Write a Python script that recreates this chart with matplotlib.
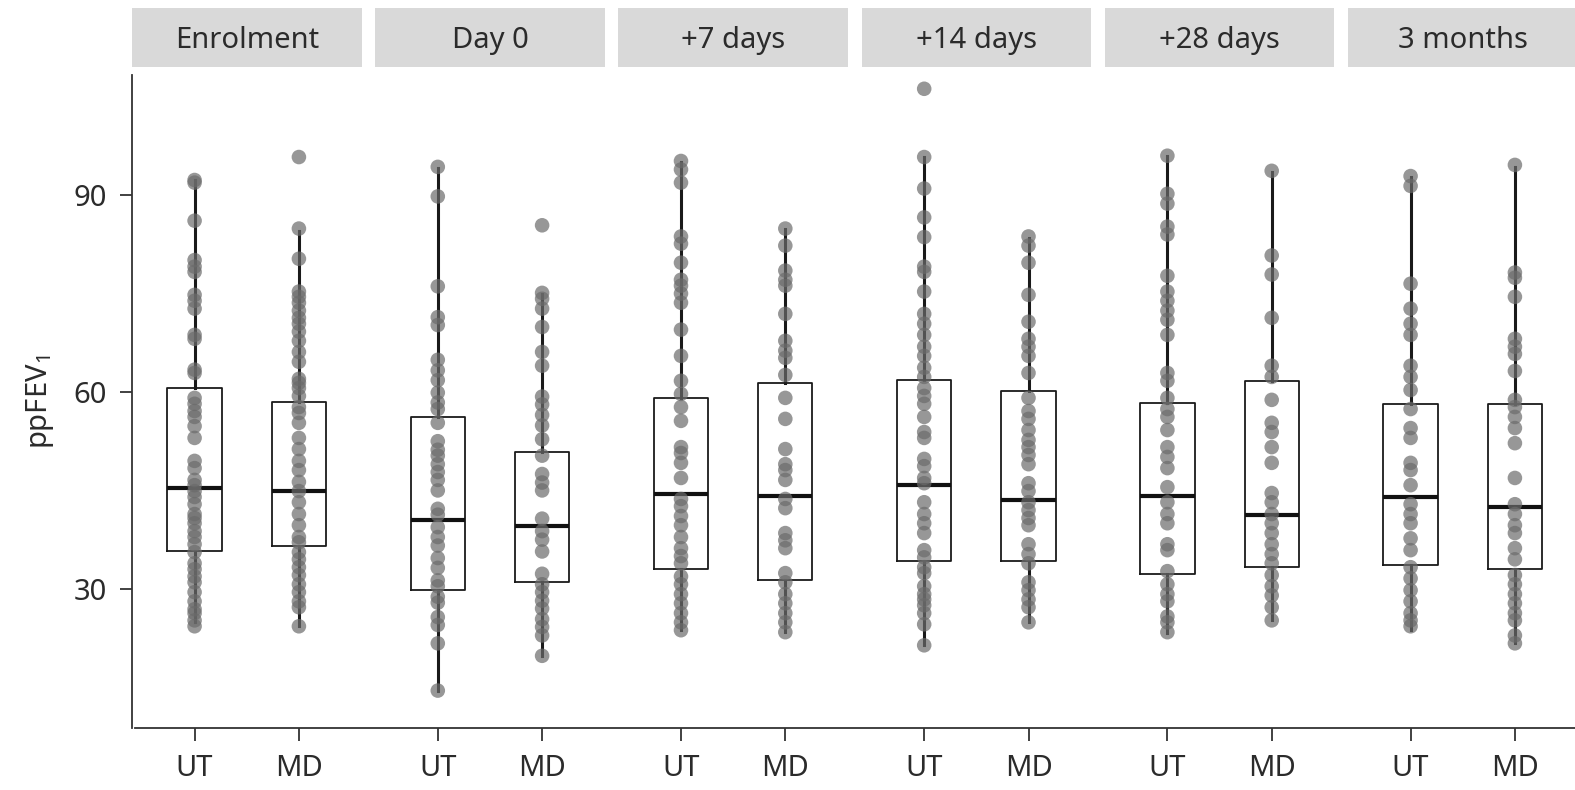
import matplotlib.pyplot as plt
from matplotlib.lines import Line2D

plt.rcParams['font.family'] = ['Noto Sans', 'DejaVu Sans']
plt.rcParams['mathtext.fontset'] = 'custom'
plt.rcParams['mathtext.rm'] = 'Noto Sans'
plt.rcParams['mathtext.it'] = 'Noto Sans:italic'

TIMEPOINTS = ['Enrolment', 'Day 0', '+7 days', '+14 days', '+28 days', '3 months']
ARMS = ['UT', 'MD']

# individual ppFEV1 values
enrol_ut = [92.3, 91.9, 86.1, 80.1, 79.1, 78.3, 74.8, 73.9, 72.7, 68.7, 68.1, 63.4, 62.9,
            59.1, 58.2, 57.1, 56.2, 54.8, 53.0, 49.5, 48.4, 46.6, 45.8, 44.9, 44.0, 42.9,
            41.4, 40.8, 40.0, 38.8, 37.9, 36.8, 35.6, 33.9, 33.0, 31.9, 31.0, 29.5, 28.1,
            26.9, 26.3, 25.2, 24.3]
enrol_md = [95.8, 84.9, 80.3, 75.3, 74.5, 73.6, 72.4, 71.3, 70.4, 69.2, 67.8, 66.1, 64.6,
            62.0, 61.4, 60.6, 59.4, 57.7, 56.8, 55.3, 53.0, 51.3, 49.5, 48.1, 46.3, 44.9,
            43.2, 41.4, 39.7, 37.9, 37.1, 35.6, 34.5, 33.3, 32.1, 30.7, 29.5, 28.1, 27.2, 24.3]
day0_ut = [94.3, 89.8, 76.1, 71.4, 70.2, 64.9, 63.3, 61.8, 59.9, 58.4, 57.4, 55.3, 52.5,
           51.2, 50.3, 49.0, 47.8, 46.6, 45.0, 42.2, 41.3, 39.4, 37.9, 36.6, 34.7, 33.2,
           31.3, 30.4, 28.8, 27.9, 25.7, 24.5, 21.7, 14.5]
day0_md = [85.4, 75.1, 74.2, 72.7, 69.9, 66.1, 64.0, 59.3, 58.1, 56.5, 54.9, 52.8, 50.3,
           47.5, 46.2, 45.0, 40.7, 38.8, 37.5, 35.7, 32.3, 30.7, 29.5, 28.2, 27.0, 25.4,
           24.2, 22.9, 19.8]
d7_ut = [95.2, 93.9, 91.9, 83.7, 82.6, 79.7, 77.1, 76.2, 75.0, 73.6, 69.5, 65.5, 61.7,
         59.7, 57.7, 55.6, 51.6, 50.7, 49.2, 46.9, 43.7, 42.6, 41.1, 39.7, 37.9, 36.2,
         35.0, 33.9, 31.9, 30.7, 29.2, 27.8, 26.3, 24.9, 23.7]
d7_md = [84.9, 82.3, 78.5, 77.1, 76.2, 71.9, 67.8, 66.3, 65.2, 62.6, 59.1, 55.9, 51.3,
         49.0, 48.1, 46.6, 43.7, 42.3, 38.5, 37.4, 36.2, 32.4, 31.0, 29.2, 27.8, 26.3,
         24.9, 23.4]
d14_ut = [106.2, 95.8, 91.0, 86.6, 83.6, 79.1, 78.3, 75.3, 71.9, 70.4, 68.7, 66.9, 65.5,
          63.7, 62.3, 60.6, 59.4, 58.2, 56.2, 53.9, 53.0, 49.8, 48.7, 46.9, 46.1, 43.2,
          41.4, 40.0, 38.5, 35.9, 34.8, 33.3, 32.4, 30.4, 29.2, 28.4, 27.5, 26.3, 24.6, 21.4]
d14_md = [83.7, 82.3, 79.7, 74.8, 70.7, 68.1, 66.9, 65.5, 62.9, 59.1, 57.1, 55.9, 54.2,
          52.7, 51.6, 50.4, 49.0, 46.1, 44.9, 43.2, 42.0, 40.8, 39.7, 36.8, 35.3, 33.9,
          31.0, 29.8, 28.4, 27.2, 24.9]
d28_ut = [96.0, 90.2, 88.7, 85.2, 84.0, 77.7, 75.3, 73.9, 72.4, 71.0, 68.7, 62.9, 61.7,
          59.1, 57.4, 56.2, 54.2, 51.6, 50.1, 48.4, 45.5, 43.2, 41.4, 40.0, 36.8, 35.9,
          32.7, 30.7, 29.2, 28.1, 25.8, 24.9, 23.4]
d28_md = [93.7, 80.8, 77.9, 71.3, 64.0, 62.3, 58.8, 55.3, 53.9, 51.6, 49.2, 44.6, 43.2,
          41.4, 40.0, 38.5, 36.8, 35.3, 33.9, 32.1, 30.4, 29.0, 27.2, 25.2]
m3_ut = [92.9, 91.4, 76.5, 72.7, 70.4, 68.7, 64.0, 62.3, 60.3, 57.4, 54.5, 53.0, 49.2,
         48.1, 45.8, 42.9, 41.4, 40.0, 37.7, 35.9, 33.3, 31.6, 29.8, 28.1, 26.3, 25.2, 24.3]
m3_md = [94.6, 78.2, 77.4, 74.5, 68.1, 66.9, 65.8, 63.2, 58.8, 57.7, 56.2, 54.5, 52.2,
         46.9, 42.9, 41.4, 39.7, 38.5, 36.2, 34.5, 32.1, 30.7, 29.2, 27.8, 26.3, 25.2,
         22.9, 21.7]

ut_points = [enrol_ut, day0_ut, d7_ut, d14_ut, d28_ut, m3_ut]
md_points = [enrol_md, day0_md, d7_md, d14_md, d28_md, m3_md]

# box statistics as drawn (whisker low, Q1, median, Q3, whisker high)
ut_lo = [24.9, 14.4, 23.7, 21.4, 23.2, 23.7]
ut_q1 = [35.7, 29.8, 33.0, 34.3, 32.3, 33.6]
ut_med = [45.3, 40.5, 44.5, 45.8, 44.1, 44.0]
ut_q3 = [60.6, 56.2, 59.1, 61.8, 58.3, 58.2]
ut_hi = [92.3, 94.1, 95.0, 95.8, 95.9, 92.7]

md_lo = [24.3, 19.8, 23.4, 24.9, 25.2, 21.7]
md_q1 = [36.5, 31.1, 31.4, 34.3, 33.3, 33.0]
md_med = [44.9, 39.6, 44.1, 43.6, 41.3, 42.4]
md_q3 = [58.4, 50.9, 61.4, 60.1, 61.6, 58.2]
md_hi = [84.6, 75.0, 84.8, 83.4, 93.5, 94.3]

W, H = 1575, 790
fig = plt.figure(figsize=(W / 100, H / 100), dpi=100)

panel_left = 132
panel_step = 243.2
panel_w = 229.5
panel_top = 75
panel_bot = 728
strip_top = 8
strip_bot = 67
text_col = '#2b2b2b'
fs = 21

for i, tp in enumerate(TIMEPOINTS):
    x0 = panel_left + i * panel_step
    ax = fig.add_axes([x0 / W, (H - panel_bot) / H, panel_w / W, (panel_bot - panel_top) / H])
    stats = [
        dict(whislo=ut_lo[i], q1=ut_q1[i], med=ut_med[i], q3=ut_q3[i], whishi=ut_hi[i], fliers=[]),
        dict(whislo=md_lo[i], q1=md_q1[i], med=md_med[i], q3=md_q3[i], whishi=md_hi[i], fliers=[]),
    ]
    ax.bxp(stats, positions=[1, 2], widths=0.52, showcaps=False, showfliers=False,
           boxprops=dict(color='#1a1a1a', linewidth=1.3),
           whiskerprops=dict(color='#1a1a1a', linewidth=2.2),
           medianprops=dict(color='#111111', linewidth=3.0))
    for pos, pts in zip([1, 2], [ut_points[i], md_points[i]]):
        ax.scatter([pos] * len(pts), pts, s=110, color='#6b6b6b', alpha=0.7,
                   edgecolors='none', zorder=3)

    ax.set_xlim(0.4, 2.6)
    ax.set_ylim(8.8, 108.3)
    ax.set_xticks([1, 2])
    ax.set_xticklabels(ARMS)
    ax.tick_params(axis='x', length=9, width=1.3, pad=10, labelsize=fs, colors='#333333',
                   labelcolor=text_col)
    for side in ['top', 'right', 'bottom']:
        ax.spines[side].set_visible(False)
    if i == 0:
        ax.set_yticks([30, 60, 90])
        ax.tick_params(axis='y', length=9, width=1.3, pad=9, labelsize=fs, colors='#333333',
                       labelcolor=text_col)
        ax.spines['left'].set_linewidth(1.3)
        ax.spines['left'].set_color('#333333')
    else:
        ax.spines['left'].set_visible(False)
        ax.set_yticks([])

    # facet strip
    sax = fig.add_axes([x0 / W, (H - strip_bot) / H, panel_w / W, (strip_bot - strip_top) / H])
    sax.set_facecolor('#d9d9d9')
    sax.set_xticks([])
    sax.set_yticks([])
    for sp in sax.spines.values():
        sp.set_visible(False)
    sax.text(0.5, 0.45, tp, ha='center', va='center', fontsize=fs, color=text_col,
             transform=sax.transAxes)

# continuous x axis line across all panels
fig.add_artist(Line2D([135 / W, 1.0], [(H - panel_bot) / H] * 2, color='#333333', linewidth=1.3))

fig.text(40 / W, (H - 402) / H, 'ppFEV$_1$', rotation=90, ha='center', va='center',
         fontsize=fs, color=text_col)

fig.savefig('out.png', dpi=100)
